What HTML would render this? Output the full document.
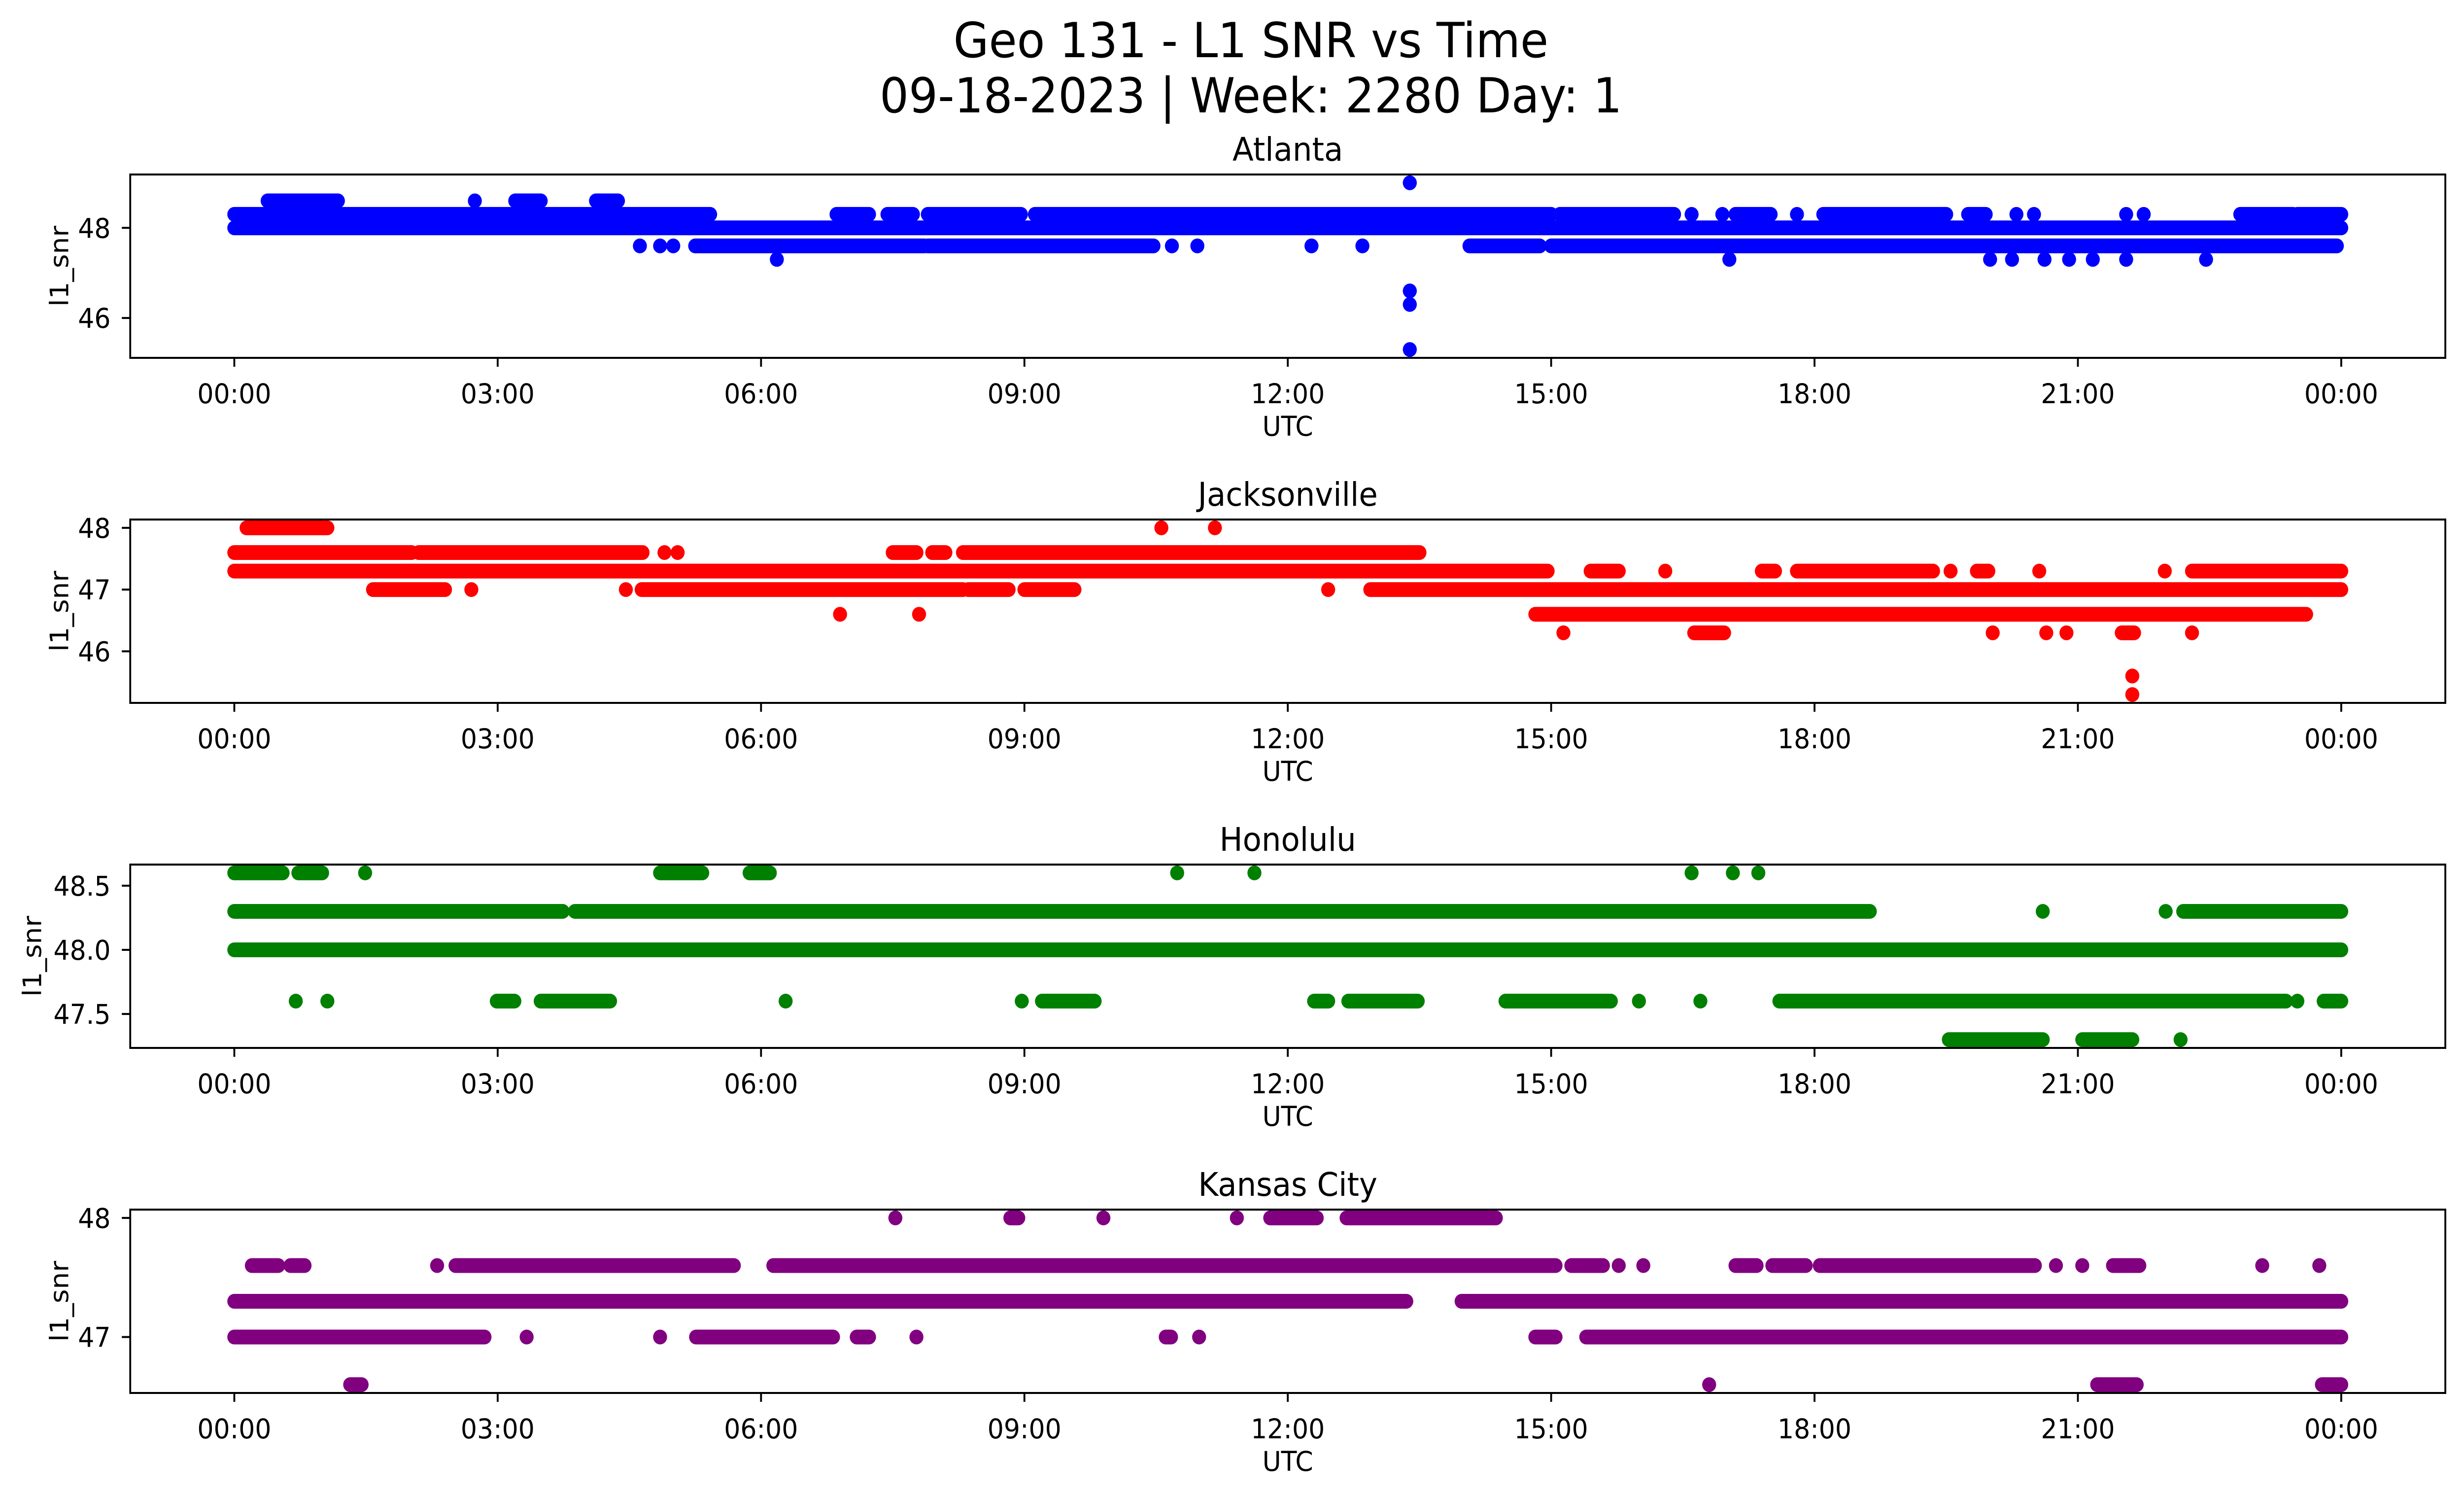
<!DOCTYPE html>
<html><head><meta charset="utf-8"><style>
html,body{margin:0;padding:0;background:#fff;overflow:hidden;width:100vw;height:100vh}
svg{display:block;width:100vw;height:100vh}
text{font-family:"DejaVu Sans","Liberation Sans",sans-serif;fill:#000}
</style></head><body>
<svg id="fig" viewBox="0 0 5279 3033" preserveAspectRatio="none" xmlns="http://www.w3.org/2000/svg">
<rect width="5279" height="3033" fill="#fff"/>
<text x="2680" y="116" font-size="98" text-anchor="middle">Geo 131 - L1 SNR vs Time</text>
<text x="2680" y="228" font-size="98" text-anchor="middle">09-18-2023 | Week: 2280 Day: 1</text>
<g id="plots"></g>
</svg>
<script>
// ---- data (hours UTC, SNR values) ----
const panelNames = ["Atlanta","Jacksonville","Honolulu","Kansas City"];
const panelColors = ["#0000ff","#ff0000","#008000","#800080"];
const yLimits = [[45.115,49.185],[45.165,48.135],[47.235,48.665],[46.53,48.07]];
const yTicks = [[46,48],[46,47,48],[47.5,48.0,48.5],[47,48]];
const yTickLabels = [["46","48"],["46","47","48"],["47.5","48.0","48.5"],["47","48"]];
const xTicks = [0,3,6,9,12,15,18,21,24];
const xTickLabels = ["00:00","03:00","06:00","09:00","12:00","15:00","18:00","21:00","00:00"];

// runs: [value, startHour, endHour]
const atlantaRuns = [[48.0,0,24],[48.3,0,5.42],[48.3,6.86,7.23],[48.3,7.44,7.73],[48.3,7.9,8.96],[48.3,9.12,15.0],[48.3,15.1,16.4],[48.3,17.1,17.5],[48.3,18.1,19.5],[48.3,19.75,19.95],[48.3,22.85,23.45],[48.3,23.5,24],[48.6,0.38,1.18],[48.6,3.2,3.49],[48.6,4.12,4.37],[47.6,5.25,7.86],[47.6,7.9,10.47],[47.6,14.07,14.87],[47.6,15.0,23.95]];
const atlantaPts = [[48.6,2.74],[47.6,4.62],[47.6,4.85],[47.6,5.0],[47.6,10.68],[47.6,10.97],[47.6,12.27],[47.6,12.85],[47.3,6.18],[47.3,17.03],[47.3,20.0],[47.3,20.25],[47.3,20.62],[47.3,20.9],[47.3,21.17],[47.3,21.55],[47.3,22.46],[49.0,13.39],[46.6,13.39],[46.3,13.39],[45.3,13.39],[48.3,16.6],[48.3,16.95],[48.3,17.8],[48.3,20.3],[48.3,20.5],[48.3,21.55],[48.3,21.75]];

const jaxRuns = [[48.0,0.14,1.06],[47.6,0,2.02],[47.6,2.1,4.65],[47.6,7.5,7.77],[47.6,7.95,8.1],[47.6,8.3,13.5],[47.3,0,14.96],[47.3,15.45,15.77],[47.3,17.4,17.55],[47.3,17.8,19.35],[47.3,19.85,19.98],[47.3,22.3,24],[47.0,1.58,2.4],[47.0,4.64,8.3],[47.0,8.36,8.82],[47.0,9.0,9.57],[47.0,12.94,24],[46.6,14.82,23.6],[46.3,16.63,16.97],[46.3,21.5,21.64]];
const jaxPts = [[48.0,10.56],[48.0,11.17],[47.6,4.9],[47.6,5.05],[47.3,16.3],[47.3,19.55],[47.3,20.56],[47.3,21.99],[47.0,2.7],[47.0,4.46],[47.0,12.46],[46.6,6.9],[46.6,7.8],[46.3,15.14],[46.3,20.03],[46.3,20.64],[46.3,20.87],[46.3,22.3],[45.6,21.62],[45.3,21.62]];

const honRuns = [[48.0,0,24],[48.3,0,3.74],[48.3,3.88,18.63],[48.3,22.2,24],[48.6,0,0.55],[48.6,0.73,1.0],[48.6,4.85,5.33],[48.6,5.87,6.1],[47.6,2.99,3.19],[47.6,3.49,4.28],[47.6,9.2,9.8],[47.6,12.3,12.46],[47.6,12.69,13.48],[47.6,14.48,15.68],[47.6,17.6,23.37],[47.6,23.8,24],[47.3,19.53,20.6],[47.3,21.05,21.62]];
const honPts = [[48.6,1.49],[48.6,10.74],[48.6,11.62],[48.6,16.6],[48.6,17.07],[48.6,17.36],[48.3,20.6],[48.3,22.0],[47.6,0.7],[47.6,1.06],[47.6,6.28],[47.6,8.97],[47.6,16.0],[47.6,16.7],[47.6,23.5],[47.3,22.17]];

const kcRuns = [[47.3,0,13.35],[47.3,13.98,24],[47.0,0,2.85],[47.0,5.26,6.82],[47.0,7.09,7.23],[47.0,10.61,10.67],[47.0,14.82,15.05],[47.0,15.4,24],[47.6,0.2,0.5],[47.6,0.64,0.8],[47.6,2.52,5.69],[47.6,6.14,15.05],[47.6,15.23,15.59],[47.6,17.1,17.34],[47.6,17.52,17.9],[47.6,18.06,20.51],[47.6,21.4,21.7],[48.0,8.84,8.93],[48.0,11.8,12.33],[48.0,12.67,14.37],[46.6,1.32,1.45],[46.6,21.22,21.67],[46.6,23.78,24]];
const kcPts = [[47.0,3.33],[47.0,4.85],[47.0,7.77],[47.0,10.99],[47.6,2.31],[47.6,15.77],[47.6,16.05],[47.6,20.75],[47.6,21.05],[47.6,23.1],[47.6,23.75],[48.0,7.53],[48.0,9.9],[48.0,11.42],[46.6,16.8]];

const allRuns = [atlantaRuns,jaxRuns,honRuns,kcRuns];
const allPts = [atlantaPts,jaxPts,honPts,kcPts];

// ---- layout ----
const NS = "http://www.w3.org/2000/svg";
const axL = 279, axR = 5239, axH = 372;
const axTops = [354,1054,1754,2454];
const yLabelX = [146,146,88,146];
const x0 = 502, pxPerHour = (5016-502)/24, R = 15;
function xScale(h){ return x0 + h*pxPerHour; }
function yScale(p,v){ const [lo,hi]=yLimits[p]; return axTops[p] + (hi-v)/(hi-lo)*axH; }
function mk(tag, attrs, parent){ const e=document.createElementNS(NS,tag); for(const k in attrs) e.setAttribute(k,attrs[k]); parent.appendChild(e); return e; }

const root = document.getElementById("plots");
for(let p=0;p<4;p++){
  const top = axTops[p], bot = top+axH;
  const g = mk("g",{},root);
  
  
  const t = mk("text",{x:(axL+axR)/2,y:top-28,"font-size":66,"text-anchor":"middle"},g);
  t.textContent = panelNames[p];
  
  
  const clip = mk("clipPath",{id:"c"+p},g);
  mk("rect",{x:axL,y:top,width:axR-axL,height:axH},clip);
  const marks = mk("g",{"clip-path":"url(#c"+p+")"},g);
  
  
  for(const r of allRuns[p]){
    const y = yScale(p,r[0]);
    const ln = mk("line",{x1:xScale(r[1]),x2:xScale(r[2]),y1:y,y2:y,stroke:panelColors[p],"stroke-width":2*R,"stroke-linecap":"round"},marks);
    
    
  }
  for(const pt of allPts[p]){
    const c = mk("circle",{cx:xScale(pt[1]),cy:yScale(p,pt[0]),r:R,fill:panelColors[p]},marks);
    
    
  }
  const frame = mk("rect",{x:axL,y:top,width:axR-axL,height:axH,fill:"none",stroke:"#000","stroke-width":4},g);
  
  
  for(let i=0;i<xTicks.length;i++){
    const x = xScale(xTicks[i]);
    mk("line",{x1:x,x2:x,y1:bot,y2:bot+18,stroke:"#000","stroke-width":4},g);
    const tl = mk("text",{x:x,y:bot+92,"font-size":55,"text-anchor":"middle"},g);
    tl.textContent = xTickLabels[i];
    
    
  }
  for(let i=0;i<yTicks[p].length;i++){
    const y = yScale(p,yTicks[p][i]);
    mk("line",{x1:axL-18,x2:axL,y1:y,y2:y,stroke:"#000","stroke-width":4},g);
    const tl = mk("text",{x:237,y:y+20,"font-size":55,"text-anchor":"end"},g);
    tl.textContent = yTickLabels[p][i];
    
    
  }
  const xl = mk("text",{x:(axL+axR)/2,y:bot+158,"font-size":55,"text-anchor":"middle"},g);
  xl.textContent = "UTC";
  
  
  const cy = top+axH/2;
  const yl = mk("text",{x:0,y:0,"font-size":55,"text-anchor":"middle",transform:"translate("+yLabelX[p]+","+cy+") rotate(-90)"},g);
  yl.textContent = "l1_snr";
  
  
}
</script>
</body></html>
